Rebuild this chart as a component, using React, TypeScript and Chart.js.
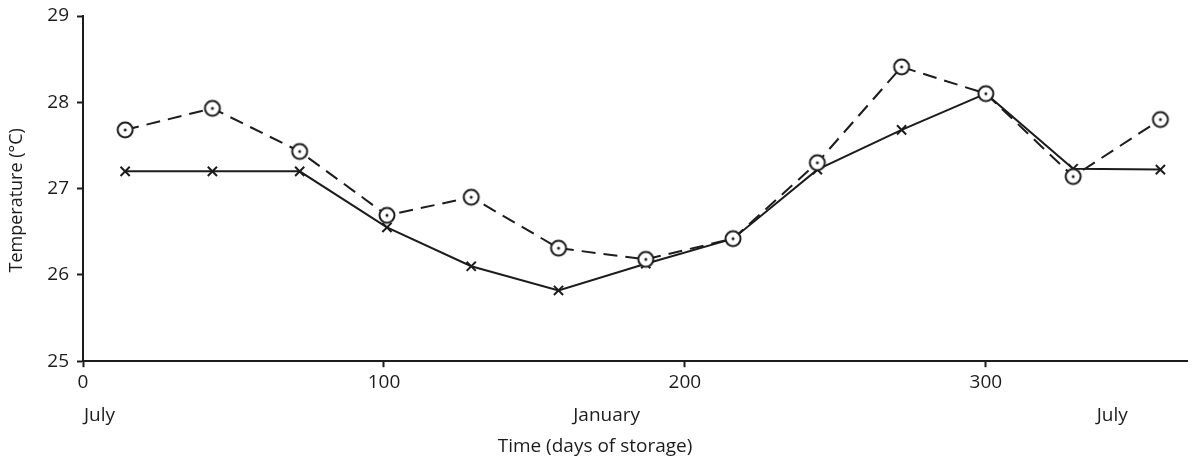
import React, { useEffect, useRef } from "react";
import { Chart, registerables } from "chart.js";

Chart.register(...registerables);

const days = [14, 43, 72, 101, 129, 158, 187, 216, 244, 272, 300, 329, 358];
const solidTemps = [27.2, 27.2, 27.2, 26.55, 26.1, 25.82, 26.13, 26.42, 27.22, 27.68, 28.1, 27.23, 27.22];
const dashedTemps = [27.68, 27.93, 27.43, 26.69, 26.9, 26.31, 26.18, 26.42, 27.3, 28.41, 28.1, 27.14, 27.8];
const dayTicks = [0, 100, 200, 300];
const monthTickDays = [5.5, 174, 342];
const monthLabels = ["July", "January", "July"];
const tempTicks = [25, 26, 27, 28, 29];

const INK = "#1c1c1c";
const FONT = "'Open Sans', 'DejaVu Sans', sans-serif";
const FS = 19;

function makeDotCircle(): HTMLCanvasElement {
  const c = document.createElement("canvas");
  c.width = 20;
  c.height = 20;
  const ctx = c.getContext("2d")!;
  ctx.fillStyle = "#ffffff";
  ctx.strokeStyle = INK;
  ctx.lineWidth = 2;
  ctx.beginPath();
  ctx.arc(10, 10, 7.5, 0, Math.PI * 2);
  ctx.fill();
  ctx.stroke();
  ctx.fillStyle = INK;
  ctx.beginPath();
  ctx.arc(10, 10, 1.5, 0, Math.PI * 2);
  ctx.fill();
  return c;
}

export default function App() {
  const ref = useRef<HTMLCanvasElement | null>(null);

  useEffect(() => {
    if (!ref.current) return;
    const dot = makeDotCircle();
    const chart = new Chart(ref.current, {
      type: "line",
      data: {
        datasets: [
          {
            label: "solid",
            data: days.map((d, i) => ({ x: d, y: solidTemps[i] })),
            borderColor: INK,
            borderWidth: 2,
            pointStyle: "crossRot",
            pointRadius: 6.5,
            pointBorderWidth: 2,
            pointBorderColor: INK,
            tension: 0,
            order: 2,
          },
          {
            label: "dashed",
            data: days.map((d, i) => ({ x: d, y: dashedTemps[i] })),
            borderColor: INK,
            borderWidth: 2,
            borderDash: [14, 8],
            pointStyle: dot as any,
            pointRadius: 7.5,
            tension: 0,
            order: 1,
          },
        ],
      },
      options: {
        animation: false,
        responsive: true,
        maintainAspectRatio: false,
        layout: { padding: { left: 0, right: 7, top: 16, bottom: 0 } },
        plugins: {
          legend: { display: false },
          tooltip: { enabled: false },
          title: {
            display: true,
            position: "bottom",
            text: "Time (days of storage)",
            color: INK,
            font: { family: FONT, size: FS, weight: "normal" },
            padding: { top: 0, bottom: 10 },
          },
        },
        scales: {
          x: {
            type: "linear",
            position: "bottom",
            weight: 1,
            min: 0,
            max: 367,
            afterBuildTicks: (s: any) => {
              s.ticks = dayTicks.map((v) => ({ value: v }));
            },
            afterFit: (s: any) => {
              s.height = 41;
            },
            grid: { display: true, drawOnChartArea: false, drawTicks: true, tickLength: 6, tickWidth: 2, color: INK },
            border: { display: true, color: INK, width: 2 },
            ticks: {
              autoSkip: false,
              maxRotation: 0,
              padding: 4,
              color: INK,
              font: { family: FONT, size: FS },
            },
          },
          x2: {
            type: "linear",
            position: "bottom",
            weight: 2,
            min: 0,
            max: 367,
            afterBuildTicks: (s: any) => {
              s.ticks = monthTickDays.map((v) => ({ value: v }));
            },
            afterFit: (s: any) => {
              s.height = 33;
            },
            grid: { display: false, drawTicks: false },
            border: { display: false },
            ticks: {
              autoSkip: false,
              maxRotation: 0,
              padding: 2,
              color: INK,
              font: { family: FONT, size: FS },
              callback: (_v: any, i: number) => monthLabels[i],
            },
          },
          y: {
            type: "linear",
            min: 25,
            max: 29,
            afterBuildTicks: (s: any) => {
              s.ticks = tempTicks.map((v) => ({ value: v }));
            },
            afterFit: (s: any) => {
              s.width = 83;
              s.paddingTop = 0;
              s.paddingBottom = 0;
            },
            grid: { display: true, drawOnChartArea: false, drawTicks: true, tickLength: 6, tickWidth: 2, color: INK },
            border: { display: true, color: INK, width: 2 },
            ticks: {
              padding: 8,
              color: INK,
              font: { family: FONT, size: FS, lineHeight: 1 },
            },
            title: {
              display: true,
              text: "Temperature (°C)     ",
              color: INK,
              font: { family: FONT, size: 18 },
              padding: { top: 6, bottom: 0 },
            },
          },
        },
      },
    });
    return () => chart.destroy();
  }, []);

  return (
    <div style={{ position: "fixed", left: 0, top: 0, width: 1197, height: 468, background: "#fff" }}>
      <canvas ref={ref} />
    </div>
  );
}
